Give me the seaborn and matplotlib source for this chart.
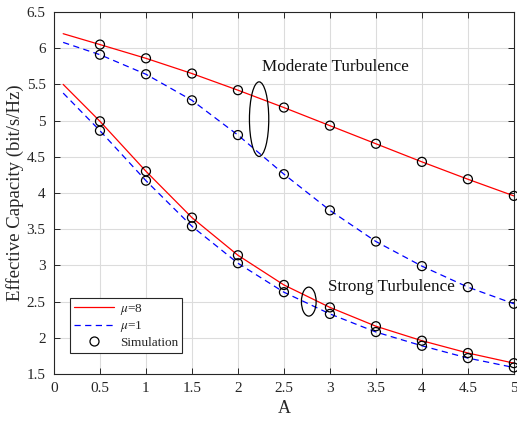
import numpy as np
import pandas as pd
import matplotlib
matplotlib.use("Agg")
import matplotlib.pyplot as plt
from matplotlib.patches import Ellipse
from matplotlib.lines import Line2D
import seaborn as sns

# Analytical curves (x grid) and simulation points
A_line = [0.1, 0.5, 1.0, 1.5, 2.0, 2.5, 3.0, 3.5, 4.0, 4.5, 5.0]
A_sim = [0.5, 1.0, 1.5, 2.0, 2.5, 3.0, 3.5, 4.0, 4.5, 5.0]

mod_mu8 = [6.20, 6.05, 5.86, 5.65, 5.42, 5.18, 4.93, 4.68, 4.43, 4.19, 3.96]
mod_mu1 = [6.08, 5.91, 5.64, 5.28, 4.80, 4.26, 3.76, 3.33, 2.99, 2.70, 2.47]
str_mu8 = [5.50, 4.99, 4.30, 3.66, 3.14, 2.73, 2.42, 2.16, 1.96, 1.79, 1.65]
str_mu1 = [5.38, 4.86, 4.17, 3.54, 3.03, 2.63, 2.33, 2.08, 1.89, 1.72, 1.59]

sim_mod_mu8 = [6.05, 5.86, 5.65, 5.42, 5.18, 4.93, 4.68, 4.43, 4.19, 3.96]
sim_mod_mu1 = [5.91, 5.64, 5.28, 4.80, 4.26, 3.76, 3.33, 2.99, 2.70, 2.47]
sim_str_mu8 = [4.99, 4.30, 3.66, 3.14, 2.73, 2.42, 2.16, 1.96, 1.79, 1.65]
sim_str_mu1 = [4.86, 4.17, 3.54, 3.03, 2.63, 2.33, 2.08, 1.89, 1.72, 1.59]

x_ticks = [0, 0.5, 1, 1.5, 2, 2.5, 3, 3.5, 4, 4.5, 5]
y_ticks = [1.5, 2, 2.5, 3, 3.5, 4, 4.5, 5, 5.5, 6, 6.5]

sns.set_theme(style="whitegrid")
plt.rcParams["font.family"] = ["Liberation Serif", "DejaVu Serif"]
plt.rcParams["mathtext.fontset"] = "stix"

fig = plt.figure(figsize=(5.17, 4.22), dpi=100)
ax = fig.add_axes([0.1044, 0.1137, 0.8896, 0.8579])
ax.set_facecolor("white")

lines = pd.DataFrame({
    "A": A_line * 4,
    "C": mod_mu8 + mod_mu1 + str_mu8 + str_mu1,
    "case": (["mod8"] * 11 + ["mod1"] * 11 + ["str8"] * 11 + ["str1"] * 11),
})
colors = {"mod8": "#ff0000", "mod1": "#0000ff", "str8": "#ff0000", "str1": "#0000ff"}
dash = (0, (5, 3.5))
for case, sub in lines.groupby("case", sort=False):
    ls = "-" if case.endswith("8") else dash
    sns.lineplot(data=sub, x="A", y="C", ax=ax, color=colors[case],
                 linestyle=ls, linewidth=0.9, legend=False, sort=False)

sims = pd.DataFrame({
    "A": A_sim * 4,
    "C": sim_mod_mu8 + sim_mod_mu1 + sim_str_mu8 + sim_str_mu1,
})
sns.scatterplot(data=sims, x="A", y="C", ax=ax, marker="o", s=42,
                facecolor="none", edgecolor="black", linewidth=0.9,
                legend=False, zorder=5, clip_on=False)

ax.set_xlim(0, 5)
ax.set_ylim(1.5, 6.5)
ax.set_xticks(x_ticks)
ax.set_xticklabels([f"{t:g}" for t in x_ticks])
ax.set_yticks(y_ticks)
ax.set_yticklabels([f"{t:g}" for t in y_ticks])
ax.grid(True, color="#dcdcdc", linewidth=0.8)
for s in ax.spines.values():
    s.set_color("#262626")
    s.set_linewidth(0.8)
    s.set_visible(True)
ax.tick_params(direction="in", length=4, width=0.7, color="#262626",
               labelsize=11, labelcolor="#262626", top=True, right=True,
               bottom=True, left=True, pad=6)

ax.set_xlabel("A", fontsize=13, color="#262626", labelpad=3)
ax.set_ylabel("Effective Capacity (bit/s/Hz)", fontsize=13.5, color="#262626", labelpad=2)

ax.add_patch(Ellipse((2.23, 5.02), 0.21, 1.03, fill=False, edgecolor="black", linewidth=0.9, zorder=6))
ax.add_patch(Ellipse((2.77, 2.50), 0.16, 0.40, fill=False, edgecolor="black", linewidth=0.9, zorder=6))
ax.text(2.26, 5.74, "Moderate Turbulence", fontsize=12.3, va="center", ha="left", color="#111111")
ax.text(2.98, 2.70, "Strong Turbulence", fontsize=12.3, va="center", ha="left", color="#111111")

handles = [
    Line2D([], [], color="#ff0000", linewidth=0.9),
    Line2D([], [], color="#0000ff", linewidth=0.9, linestyle=dash),
    Line2D([], [], color="black", marker="o", linestyle="none", markersize=6.5,
           markerfacecolor="none", markeredgewidth=0.9),
]
leg = ax.legend(handles, [r"$\mu$=8", r"$\mu$=1", "Simulation"], loc="lower left",
                bbox_to_anchor=(0.035, 0.058), borderaxespad=0, fontsize=9.5,
                frameon=True, fancybox=False, framealpha=1, edgecolor="#262626",
                handlelength=3.0, borderpad=0.3, labelspacing=0.2, handletextpad=0.5)
leg.get_frame().set_linewidth(0.8)

fig.savefig("out.png", dpi=100)
